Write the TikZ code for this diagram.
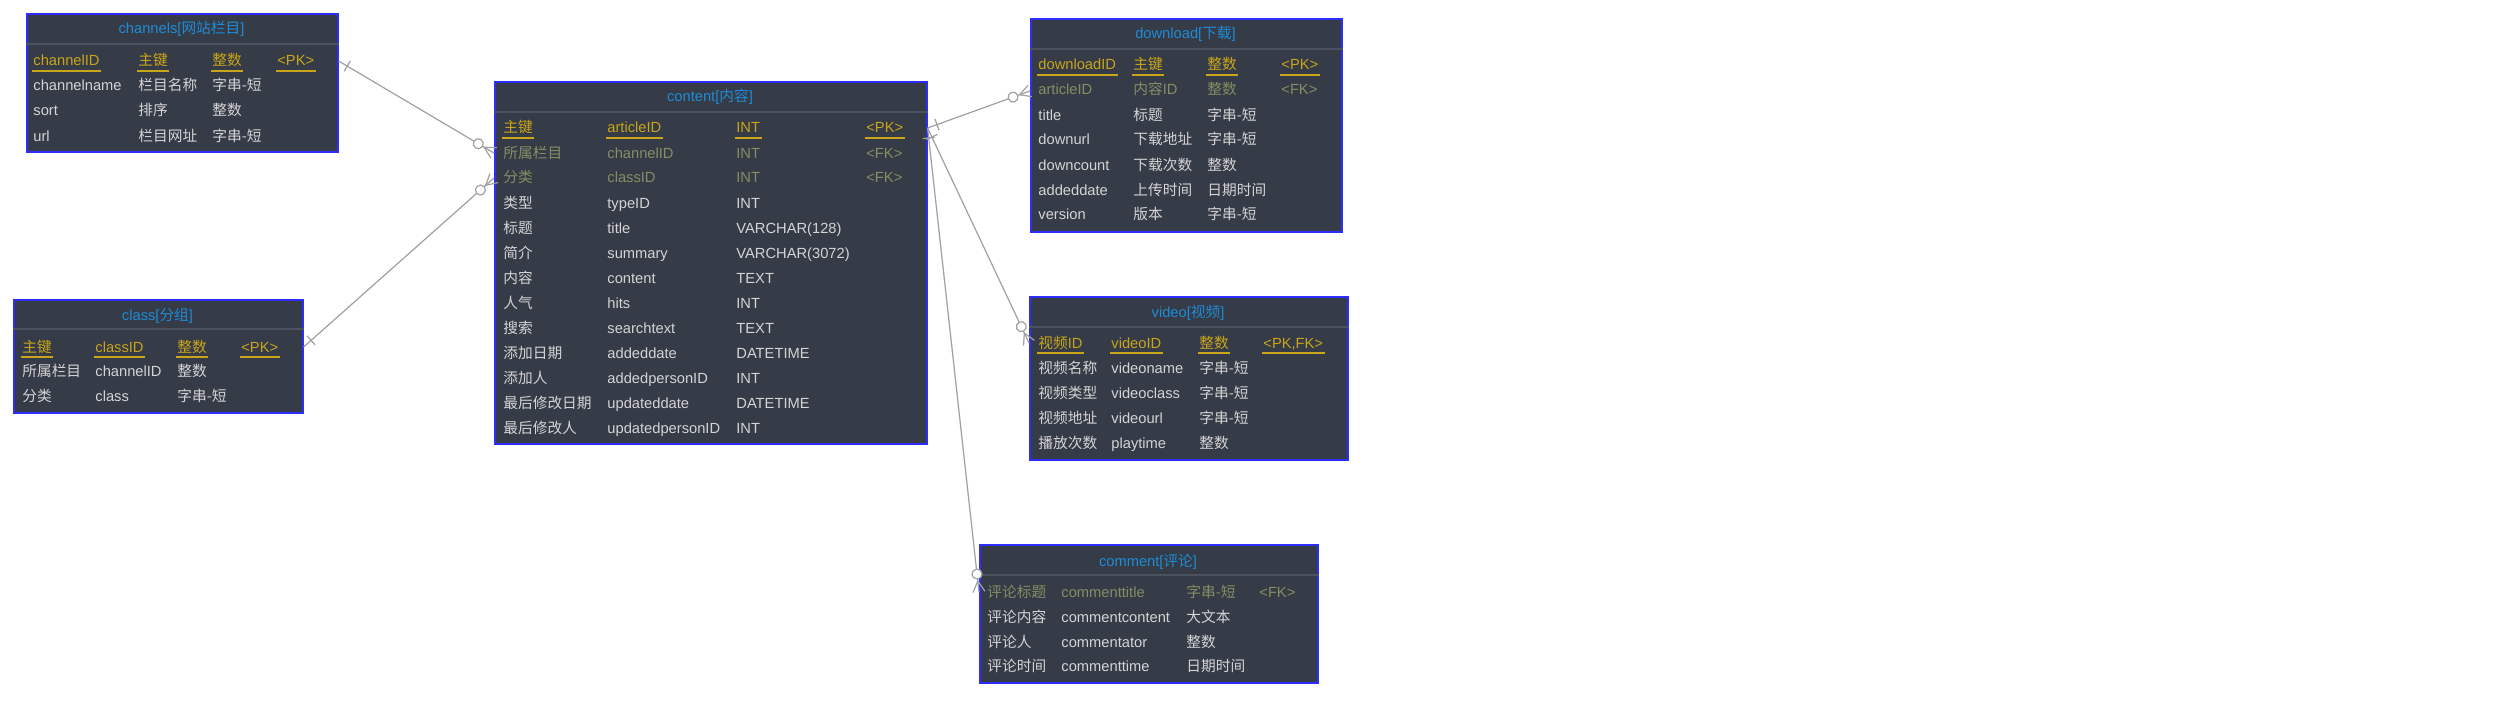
\documentclass[tikz,border=0pt]{standalone}
\usepackage{fontspec}
\setmainfont{Liberation Sans}
\newfontfamily\cjk{Noto Sans CJK SC}
\usetikzlibrary{decorations.markings}
\newcommand\zh[1]{{\cjk #1}}
\definecolor{boxfill}{RGB}{54,59,72}
\definecolor{boxborder}{RGB}{45,45,255}
\definecolor{titlec}{RGB}{30,140,212}
\definecolor{pkc}{RGB}{200,165,25}
\definecolor{fkc}{RGB}{132,142,98}
\definecolor{txt}{RGB}{212,212,212}
\definecolor{hdrc}{RGB}{76,81,94}
\definecolor{lineg}{RGB}{160,160,160}
\newcommand\erow[7]{%
 \node[cell,#3] (#1-#2-a) at (\cA,#2+5) {#4};
 \node[cell,#3] (#1-#2-b) at (\cB,#2+5) {#5};
 \node[cell,#3] (#1-#2-c) at (\cC,#2+5) {#6};
 \if\relax\detokenize{#7}\relax\else\node[cell,#3] (#1-#2-d) at (\cD,#2+5) {#7};\fi
}
\begin{document}
\begin{tikzpicture}[x=0.5pt,y=-0.5pt,
 every node/.style={font=\fontsize{7.35pt}{9pt}\selectfont},
 tbl/.style={draw=boxborder, fill=boxfill, line width=0.8pt, inner sep=0pt, anchor=north west},
 hdr/.style={draw=hdrc, line width=0.6pt},
 title/.style={anchor=base, inner sep=0pt, text=titlec},
 cell/.style={anchor=base west, inner sep=0pt, text=txt},
 pk/.style={text=pkc, append after command={([xshift=-0.6pt,yshift=-2.5pt]\tikzlastnode.base west) edge[draw=pkc, line width=0.7pt] ([xshift=0.6pt,yshift=-2.5pt]\tikzlastnode.base east)}},
 fk/.style={text=fkc},
 erconn/.style={draw=lineg, line width=0.6pt, postaction={decorate, decoration={markings,
   mark=at position 5pt with {\draw[lineg,line width=0.6pt] (0,-3pt) -- (0,3pt);},
   mark=at position 0.9999 with {\draw[lineg,line width=0.6pt] (-5.5pt,0) -- (0,3pt) (-5.5pt,0) -- (0,-3pt); \draw[lineg,line width=0.6pt,fill=white] (-9pt,0) circle (2.5pt);}}}}
]
\fill[white] (0,0) rectangle (2500,701);
\useasboundingbox (0,0) rectangle (2500,701);

% ---------- channels ----------
\node[tbl, minimum width=155.5pt, minimum height=69pt] (channels) at (26,13) {};
\draw[hdr] (channels.west |- 0,44) -- (channels.east |- 0,44);
\node[title] (ch-t) at (181.5,34) {channels[\zh{网站栏目}]};
\def\cA{33}\def\cB{138}\def\cC{212}\def\cD{277}
\erow{ch}{61}{pk}{channelID}{\zh{主键}}{\zh{整数}}{<PK>}
\erow{ch}{86}{}{channelname}{\zh{栏目名称}}{\zh{字串-短}}{}
\erow{ch}{111}{}{sort}{\zh{排序}}{\zh{整数}}{}
\erow{ch}{136}{}{url}{\zh{栏目网址}}{\zh{字串-短}}{}

% ---------- class ----------
\node[tbl, minimum width=144.5pt, minimum height=56.5pt] (class) at (13,299) {};
\draw[hdr] (class.west |- 0,329) -- (class.east |- 0,329);
\node[title] (cl-t) at (157.5,320) {class[\zh{分组}]};
\def\cA{22}\def\cB{95}\def\cC{177}\def\cD{241}
\erow{cl}{347}{pk}{\zh{主键}}{classID}{\zh{整数}}{<PK>}
\erow{cl}{371}{}{\zh{所属栏目}}{channelID}{\zh{整数}}{}
\erow{cl}{396}{}{\zh{分类}}{class}{\zh{字串-短}}{}

% ---------- content ----------
\node[tbl, minimum width=216pt, minimum height=181pt] (content) at (494,81) {};
\draw[hdr] (content.west |- 0,112) -- (content.east |- 0,112);
\node[title] (ct-t) at (710,102) {content[\zh{内容}]};
\def\cA{503}\def\cB{607}\def\cC{736}\def\cD{866}
\erow{ct}{128}{pk}{\zh{主键}}{articleID}{INT}{<PK>}
\erow{ct}{153}{fk}{\zh{所属栏目}}{channelID}{INT}{<FK>}
\erow{ct}{178}{fk}{\zh{分类}}{classID}{INT}{<FK>}
\erow{ct}{203}{}{\zh{类型}}{typeID}{INT}{}
\erow{ct}{228}{}{\zh{标题}}{title}{VARCHAR(128)}{}
\erow{ct}{253}{}{\zh{简介}}{summary}{VARCHAR(3072)}{}
\erow{ct}{278}{}{\zh{内容}}{content}{TEXT}{}
\erow{ct}{303}{}{\zh{人气}}{hits}{INT}{}
\erow{ct}{328}{}{\zh{搜索}}{searchtext}{TEXT}{}
\erow{ct}{353}{}{\zh{添加日期}}{addeddate}{DATETIME}{}
\erow{ct}{378}{}{\zh{添加人}}{addedpersonID}{INT}{}
\erow{ct}{403}{}{\zh{最后修改日期}}{updateddate}{DATETIME}{}
\erow{ct}{428}{}{\zh{最后修改人}}{updatedpersonID}{INT}{}

% ---------- download ----------
\node[tbl, minimum width=155.5pt, minimum height=106.5pt] (download) at (1030,18) {};
\draw[hdr] (download.west |- 0,49) -- (download.east |- 0,49);
\node[title] (dl-t) at (1185.5,39) {download[\zh{下载}]};
\def\cA{1038}\def\cB{1133}\def\cC{1207}\def\cD{1281}
\erow{dl}{65}{pk}{downloadID}{\zh{主键}}{\zh{整数}}{<PK>}
\erow{dl}{90}{fk}{articleID}{\zh{内容}ID}{\zh{整数}}{<FK>}
\erow{dl}{115}{}{title}{\zh{标题}}{\zh{字串-短}}{}
\erow{dl}{140}{}{downurl}{\zh{下载地址}}{\zh{字串-短}}{}
\erow{dl}{165}{}{downcount}{\zh{下载次数}}{\zh{整数}}{}
\erow{dl}{190}{}{addeddate}{\zh{上传时间}}{\zh{日期时间}}{}
\erow{dl}{215}{}{version}{\zh{版本}}{\zh{字串-短}}{}

% ---------- video ----------
\node[tbl, minimum width=159pt, minimum height=81.5pt] (video) at (1029,296) {};
\draw[hdr] (video.west |- 0,327) -- (video.east |- 0,327);
\node[title] (vd-t) at (1188,317) {video[\zh{视频}]};
\def\cA{1038}\def\cB{1111}\def\cC{1199}\def\cD{1263}
\erow{vd}{343}{pk}{\zh{视频}ID}{videoID}{\zh{整数}}{<PK,FK>}
\erow{vd}{368}{}{\zh{视频名称}}{videoname}{\zh{字串-短}}{}
\erow{vd}{393}{}{\zh{视频类型}}{videoclass}{\zh{字串-短}}{}
\erow{vd}{418}{}{\zh{视频地址}}{videourl}{\zh{字串-短}}{}
\erow{vd}{443}{}{\zh{播放次数}}{playtime}{\zh{整数}}{}

% ---------- comment ----------
\node[tbl, minimum width=169pt, minimum height=69pt] (comment) at (979,544) {};
\draw[hdr] (comment.west |- 0,575) -- (comment.east |- 0,575);
\node[title] (cm-t) at (1148,566) {comment[\zh{评论}]};
\def\cA{987}\def\cB{1061}\def\cC{1186}\def\cD{1259}
\erow{cm}{592}{fk}{\zh{评论标题}}{commenttitle}{\zh{字串-短}}{<FK>}
\erow{cm}{617}{}{\zh{评论内容}}{commentcontent}{\zh{大文本}}{}
\erow{cm}{642}{}{\zh{评论人}}{commentator}{\zh{整数}}{}
\erow{cm}{666}{}{\zh{评论时间}}{commenttime}{\zh{日期时间}}{}

% ---------- connectors ----------
\coordinate (chP) at (channels.east |- 0,61);
\coordinate (ctF1) at (content.west |- 0,153);
\coordinate (clP) at (class.east |- 0,347);
\coordinate (ctF2) at (content.west |- 0,178);
\coordinate (ctP) at (content.east |- 0,128);
\coordinate (dlF) at (download.west |- 0,91);
\coordinate (vdF) at (video.west |- 0,343);
\coordinate (cmF) at (comment.west |- 0,592);
\draw[erconn] (chP) -- (ctF1);
\draw[erconn] (clP) -- (ctF2);
\draw[erconn] (ctP) -- (dlF);
\draw[erconn] (ctP) -- (vdF);
\draw[erconn] (ctP) -- (cmF);
\end{tikzpicture}
\end{document}
